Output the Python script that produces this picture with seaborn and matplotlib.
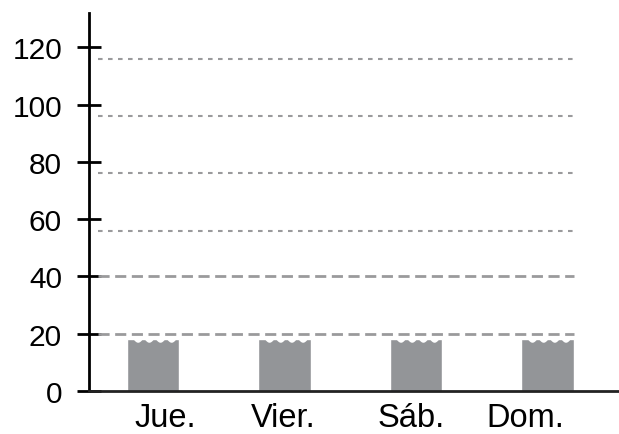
import numpy as np
import pandas as pd
import matplotlib
matplotlib.use("Agg")
import matplotlib.pyplot as plt
import matplotlib.transforms as mtransforms
import seaborn as sns

days = ["Jue.", "Vier.", "Sáb.", "Dom."]
values = [18, 18, 18, 18]
y_ticks = [0, 20, 40, 60, 80, 100, 120]
grid_dashed = [20, 40]
grid_dotted = [56, 76, 96, 116]

sns.set_style("white")
plt.rcParams["font.family"] = ["Liberation Sans", "DejaVu Sans"]

df = pd.DataFrame({"day": days, "value": values})

fig = plt.figure(figsize=(6.19, 4.35), dpi=100)
ax = fig.add_axes([0.144, 0.099, 0.856, 0.869])

grey = "#939598"
line_grey = "#9a9a9c"

sns.barplot(data=df, x="day", y="value", color=grey, width=0.4,
            saturation=1, ax=ax, zorder=2)

ax.set_xlim(-0.487, 3.544)
ax.set_ylim(0, 132)

# grid lines (drawn over the bars)
for g in grid_dashed:
    ax.plot([-0.42, 3.2], [g, g], color=line_grey, lw=2,
            dashes=(4, 2), zorder=3)
for g in grid_dotted:
    ax.plot([-0.42, 3.2], [g, g], color=line_grey, lw=1.5,
            dashes=(2.2, 2.6), zorder=3)

# wavy (broken) tops on the bars
for p in ax.patches:
    x0, w, h = p.get_x(), p.get_width(), p.get_height()
    xs = np.linspace(x0, x0 + w, 300)
    t = (xs - x0) / w
    wave = np.abs(np.sin(np.pi * 4 * (t - 0.1) / 0.85))
    wave[(t < 0.1) | (t > 0.95)] = 0.0
    ys = h + 0.6 - 1.6 * wave
    ax.fill_between(xs, ys, h + 1.0, color="white", lw=0, zorder=2.5)

ax.set_yticks(y_ticks)
ax.set_xlabel("")
ax.set_ylabel("")

sns.despine(ax=ax)
for s in ["left", "bottom"]:
    ax.spines[s].set_linewidth(2)
ax.spines["left"].set_color("black")
ax.spines["bottom"].set_color("#222222")

ax.tick_params(axis="y", left=True, direction="inout", length=17, width=2,
               labelsize=21.5, pad=11, color="black", labelcolor="black")
ax.tick_params(axis="x", bottom=False, length=0, labelsize=23.5, pad=8,
               labelcolor="black")

# the day labels in the original sit a bit off the bar centres
label_shift_px = [12, -1, -5, -22]
for lab, dx in zip(ax.get_xticklabels(), label_shift_px):
    lab.set_transform(lab.get_transform() +
                      mtransforms.ScaledTranslation(dx / 100, 0, fig.dpi_scale_trans))

fig.savefig("out.png", dpi=100)
